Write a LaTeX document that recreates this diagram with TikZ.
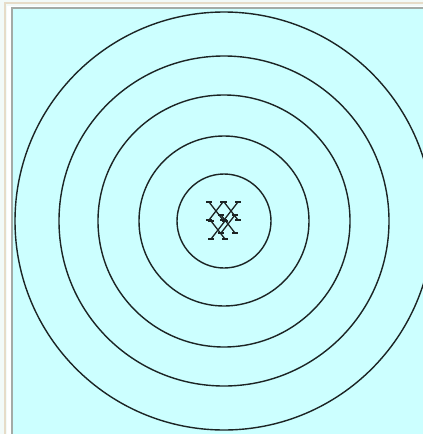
\documentclass[tikz,border=0pt]{standalone}
\usetikzlibrary{calc}
\definecolor{plotfill}{HTML}{CCFFFF}
\definecolor{frameedge}{HTML}{A3ABA6}
\definecolor{framelite}{HTML}{E6DCC8}
\definecolor{outerfill}{HTML}{F2FAF8}
\definecolor{ringedge}{HTML}{1C2424}

\begin{document}
\begin{tikzpicture}[
  x=1pt, y=-1pt,
  ring/.style={draw=ringedge, line width=1.4pt},
  mk/.style={draw=ringedge, line width=1.3pt},
  xmark/.pic={
    \draw[mk] (-7,-9) -- (7,9) (-7,9) -- (7,-9);
    \draw[mk] (-10,-9) -- (-4,-9) (4,-9) -- (10,-9);
    \draw[mk] (-10,9) -- (-4,9) (4,9) -- (10,9);
  },
]
% ---- window frame and plot area ----
\useasboundingbox (0,0) rectangle (423,434);
\fill[outerfill] (0,0) rectangle (423,434);
\draw[framelite, line width=1.2pt] (5,440) -- (5,3) -- (430,3);
\fill[white] (7,5.5) rectangle (430,440);
\fill[plotfill] (12,8) rectangle (430,440);
\draw[frameedge, line width=1.5pt] (12,440) -- (12,8) -- (430,8);
% ---- concentric rings ----
\coordinate (ctr) at (224,221);
\draw[ring] (ctr) circle[radius=47];
\draw[ring] (ctr) circle[radius=85];
\draw[ring] (ctr) circle[radius=126];
\draw[ring] (ctr) circle[radius=165];
\draw[ring] (ctr) circle[radius=209];
% ---- cluster of hit marks near the centre ----
\pic at (216,211) {xmark};
\pic at (231,211) {xmark};
\pic at (228,224) {xmark};
\pic at (218,230) {xmark};
\end{tikzpicture}
\end{document}
